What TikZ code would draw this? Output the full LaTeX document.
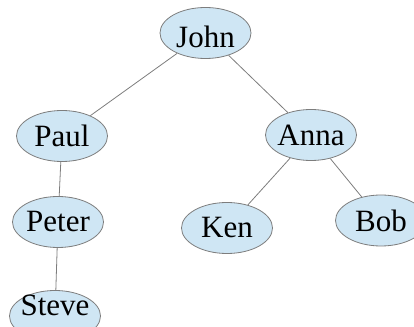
\documentclass[tikz,border=0pt]{standalone}
\usepackage{fontspec}
\setmainfont{Liberation Serif}
\usepackage{tikz}
\usetikzlibrary{shapes.geometric}
\definecolor{namefill}{RGB}{207,230,244}
\definecolor{namedraw}{RGB}{125,125,125}
\tikzstyle{every node}=[ellipse,draw=namedraw,fill=namefill,line width=0.8pt,
    minimum width=91pt,minimum height=51pt,inner sep=-10pt,
    font=\fontsize{31}{36}\selectfont]
\tikzstyle{link}=[draw=namedraw,line width=0.8pt]

\begin{document}
\begin{tikzpicture}[x=1pt,y=1pt]
    \useasboundingbox (0,0) rectangle (414,326);
    \node[text height=29pt] (john) at (205.5,293) {John};
    \node (paul)  at (62,190)    {Paul};
    \node (anna)  at (311,191)   {Anna};
    \node (peter) at (58,104)    {Peter};
    \node (ken)   at (227,98)    {Ken};
    \node (bob)   at (381,105.5) {Bob};
    \node[text depth=22pt] (steve) at (55,10) {Steve};
    \draw[link] (john) -- (paul);
    \draw[link] (john) -- (anna);
    \draw[link] (paul) -- (peter);
    \draw[link] (peter) -- (steve);
    \draw[link] (anna) -- (ken);
    \draw[link] (anna) -- (bob);
\end{tikzpicture}
\end{document}
